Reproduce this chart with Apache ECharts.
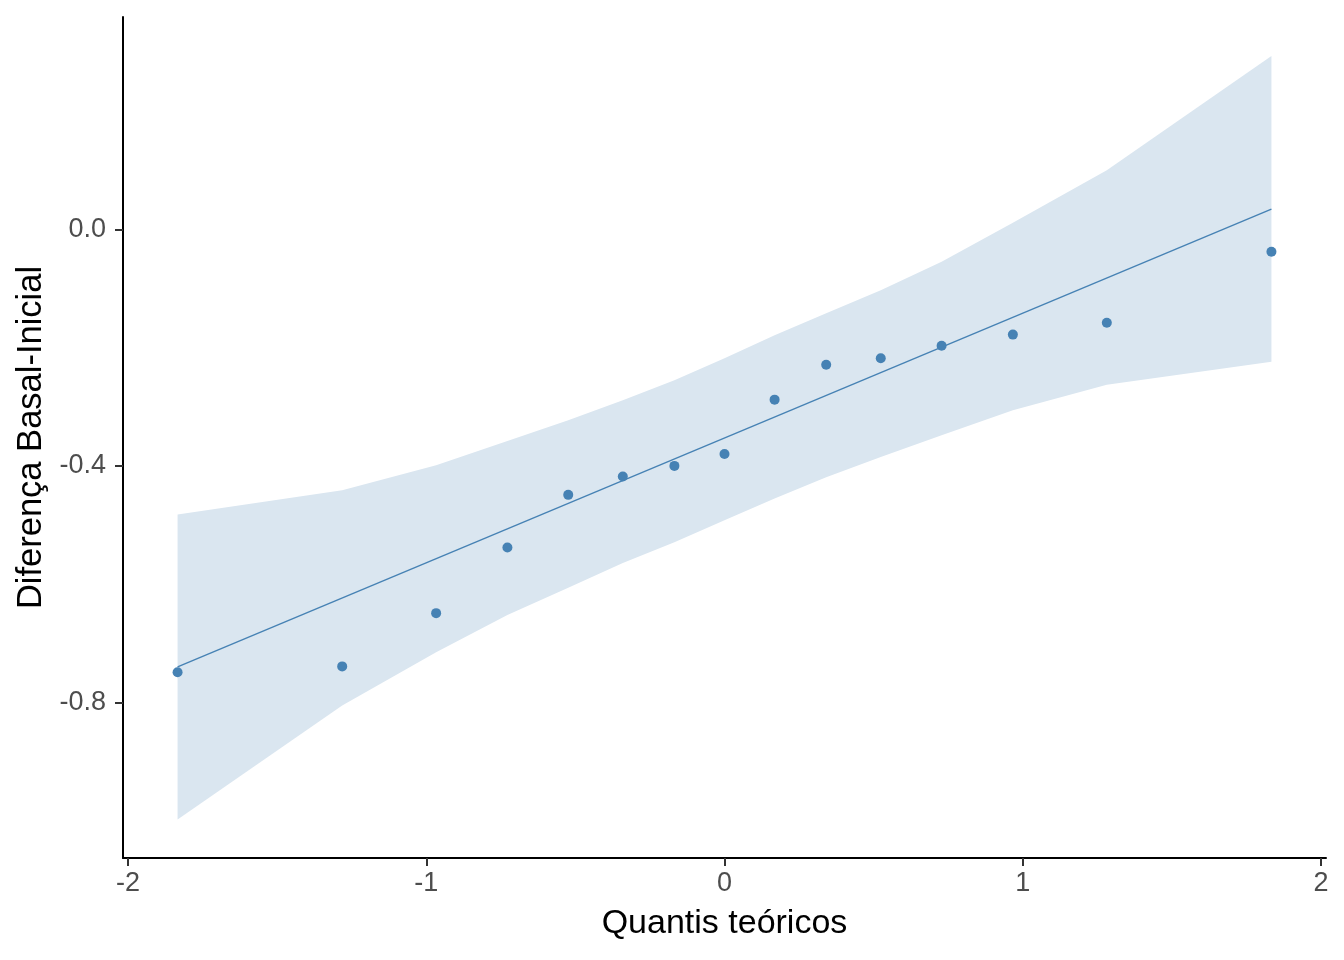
<!DOCTYPE html>
<html>
<head>
<meta charset="utf-8">
<script src="https://cdn.jsdelivr.net/npm/echarts@6/dist/echarts.min.js"></script>
<style>
  html, body { margin: 0; padding: 0; background: #ffffff; }
  #chart { width: 1344px; height: 960px; }
</style>
</head>
<body>
<div id="chart"></div>
<script>
// ---- Data ----
const theoreticalQuantiles = [-1.834, -1.282, -0.967, -0.728, -0.524, -0.341, -0.168, 0, 0.168, 0.341, 0.524, 0.728, 0.967, 1.282, 1.834];
const sampleValues = [-0.749, -0.739, -0.649, -0.538, -0.449, -0.418, -0.400, -0.380, -0.288, -0.229, -0.218, -0.197, -0.178, -0.158, -0.038];
const bandUpper = [-0.482, -0.441, -0.399, -0.358, -0.323, -0.289, -0.255, -0.218, -0.179, -0.142, -0.103, -0.055, 0.011, 0.100, 0.293];
const bandLower = [-0.998, -0.805, -0.715, -0.652, -0.606, -0.564, -0.529, -0.492, -0.455, -0.419, -0.385, -0.348, -0.306, -0.263, -0.224];
const qqLineX = [-1.834, 1.834];
const qqLineY = [-0.740, 0.034];
const xTicks = [-2, -1, 0, 1, 2];
const yTicks = [-0.8, -0.4, 0.0];
const xTitle = 'Quantis teóricos';
const yTitle = 'Diferença Basal-Inicial';

const FONT = '"Liberation Sans", Arial, sans-serif';
const chart = echarts.init(document.getElementById('chart'), null, { renderer: 'canvas' });

const points = theoreticalQuantiles.map((x, i) => [x, sampleValues[i]]);
const linePts = qqLineX.map((x, i) => [x, qqLineY[i]]);

chart.setOption({
  animation: false,
  backgroundColor: '#ffffff',
  grid: { left: 123, right: 18, top: 17, bottom: 102, containLabel: false },
  xAxis: {
    type: 'value',
    min: -2.017, max: 2.017,
    name: xTitle,
    nameLocation: 'middle',
    nameGap: 49,
    nameTextStyle: { fontFamily: FONT, fontSize: 34, color: '#000000' },
    axisLine: { onZero: false, lineStyle: { color: '#000000', width: 2 } },
    axisTick: { show: true, length: 8, customValues: xTicks, lineStyle: { color: '#333333', width: 2 } },
    axisLabel: { customValues: xTicks, margin: 12, fontFamily: FONT, fontSize: 27, color: '#4D4D4D',
      formatter: v => String(v) },
    splitLine: { show: false }
  },
  yAxis: {
    type: 'value',
    min: -1.063, max: 0.359,
    name: yTitle,
    nameLocation: 'middle',
    nameGap: 70,
    nameRotate: 90,
    nameTextStyle: { fontFamily: FONT, fontSize: 34.5, color: '#000000' },
    axisLine: { show: true, onZero: false, lineStyle: { color: '#000000', width: 2 } },
    axisTick: { show: true, length: 8, customValues: yTicks, lineStyle: { color: '#333333', width: 2 } },
    axisLabel: { customValues: yTicks, margin: 17, fontFamily: FONT, fontSize: 27, color: '#4D4D4D',
      formatter: v => v.toFixed(1) },
    splitLine: { show: false }
  },
  series: [
    {
      type: 'custom',
      name: 'band',
      data: [0],
      silent: true,
      z: 1,
      renderItem: function (params, api) {
        const pts = [];
        for (let i = 0; i < theoreticalQuantiles.length; i++) {
          pts.push(api.coord([theoreticalQuantiles[i], bandUpper[i]]));
        }
        for (let i = theoreticalQuantiles.length - 1; i >= 0; i--) {
          pts.push(api.coord([theoreticalQuantiles[i], bandLower[i]]));
        }
        return { type: 'polygon', shape: { points: pts }, style: { fill: '#DAE6F0', stroke: null } };
      }
    },
    {
      type: 'line',
      data: linePts,
      symbol: 'none',
      z: 2,
      lineStyle: { color: '#4682B4', width: 1.4 }
    },
    {
      type: 'scatter',
      data: points,
      symbol: 'circle',
      symbolSize: 10,
      z: 3,
      itemStyle: { color: '#4682B4', opacity: 1 }
    }
  ]
});
</script>
</body>
</html>
